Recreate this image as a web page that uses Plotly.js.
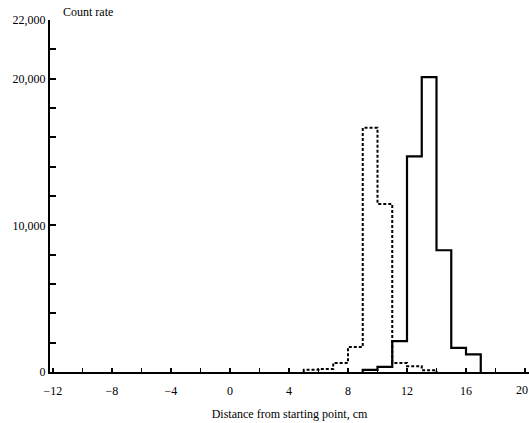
<!DOCTYPE html>
<html>
<head>
<meta charset="utf-8">
<script src="https://cdn.plot.ly/plotly-3.0.1.min.js"></script>
<style>html,body{margin:0;padding:0;background:#fff;}#chart{width:529px;height:423px;}</style>
</head>
<body>
<div id="chart"></div>
<script>
// Bin left edges (cm), 1 cm wide bins
var dashedBins = [5, 6, 7, 8, 9, 10, 11, 12, 13];
var dashedCounts = [150, 200, 620, 1700, 16650, 11450, 620, 400, 120];
var solidBins = [9, 10, 11, 12, 13, 14, 15, 16];
var solidCounts = [150, 350, 2100, 14700, 20100, 8300, 1650, 1200];
var binWidth = 1;

var yTickVals = [0, 2000, 4000, 6000, 8000, 10000, 12000, 14000, 16000, 18000, 20000, 22000, 24000];
var yTickText = ['0', '', '', '', '', '10,000', '', '', '', '', '20,000', '', '22,000'];
var xTickVals = [-12, -10, -8, -6, -4, -2, 0, 2, 4, 6, 8, 10, 12, 14, 16, 18, 20];
var xTickText = ['\u221212', '', '\u22128', '', '\u22124', '', '0', '', '4', '', '8', '', '12', '', '16', '', ''];
var lastXLabel = '20';

function steps(bins, counts) {
  var x = [bins[0]], y = [0];
  for (var i = 0; i < bins.length; i++) { x.push(bins[i]); y.push(counts[i]); }
  x.push(bins[bins.length - 1] + binWidth); y.push(0);
  return {x: x, y: y};
}
var d = steps(dashedBins, dashedCounts);
var s = steps(solidBins, solidCounts);

var fam = '"Liberation Serif", "DejaVu Serif", serif';
var font = {family: fam, size: 12, color: '#000'};

var traces = [
  {x: d.x, y: d.y, type: 'scatter', mode: 'lines', line: {shape: 'hv', color: '#000', width: 2, dash: '3px,2px'}, hoverinfo: 'skip'},
  {x: s.x, y: s.y, type: 'scatter', mode: 'lines', line: {shape: 'hv', color: '#000', width: 2.2}, hoverinfo: 'skip'}
];

var layout = {
  width: 529, height: 423,
  margin: {l: 50, r: 0, t: 20, b: 51},
  paper_bgcolor: '#fff', plot_bgcolor: '#fff',
  showlegend: false,
  font: font,
  xaxis: {
    range: [-12.2, 20.27], showgrid: false, zeroline: false,
    showline: true, linecolor: '#000', linewidth: 2,
    ticks: 'inside', ticklen: 4, tickwidth: 1.5, tickcolor: '#000',
    tickmode: 'array', tickvals: xTickVals, ticktext: xTickText,
    tickfont: font, ticklabelstandoff: 7,
    title: {text: 'Distance from starting point, cm', font: {family: fam, size: 12, color: '#000'}, standoff: 12}
  },
  yaxis: {
    range: [0, 24000], showgrid: false, zeroline: false,
    showline: true, linecolor: '#000', linewidth: 2,
    ticks: 'inside', ticklen: 6, tickwidth: 2, tickcolor: '#000',
    tickmode: 'array', tickvals: yTickVals, ticktext: yTickText,
    tickfont: font
  },
  annotations: [
    {text: 'Count rate', xref: 'paper', yref: 'paper', x: 0.022, y: 1.0, xanchor: 'left', yanchor: 'bottom', yshift: -1, showarrow: false, font: {family: fam, size: 12, color: '#000'}},
    {text: lastXLabel, xref: 'paper', yref: 'paper', x: 1, y: 0, xanchor: 'right', yanchor: 'top', yshift: -9, xshift: 1, showarrow: false, font: font}
  ]
};

Plotly.newPlot('chart', traces, layout, {displayModeBar: false, staticPlot: true});
</script>
</body>
</html>
